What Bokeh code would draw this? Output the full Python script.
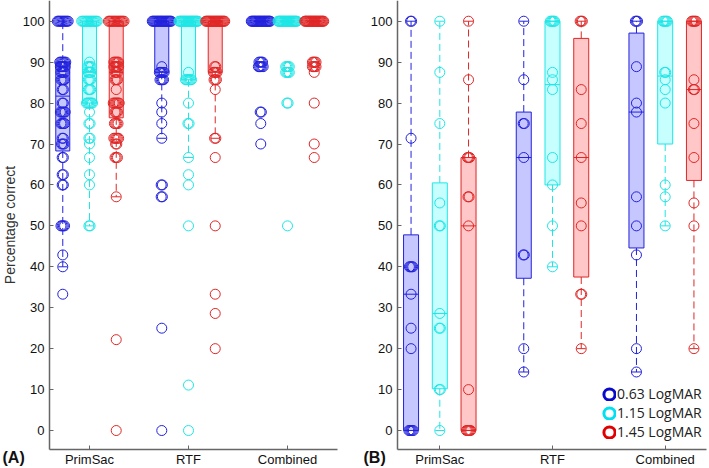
import numpy as np
from bokeh.plotting import figure
from bokeh.layouts import row
from bokeh.models import (ColumnDataSource, FixedTicker, Range1d, Label, Legend, LegendItem)
from bokeh.embed import file_html
from bokeh.resources import INLINE

# ---------------- data ----------------
tasks = ["PrimSac", "RTF", "Combined"]
acuities = ["0.63 LogMAR", "1.15 LogMAR", "1.45 LogMAR"]
y_ticks = [0, 10, 20, 30, 40, 50, 60, 70, 80, 90, 100]

# Panel (A): individual scores (value, number of occurrences)
A_PrimSac_063_vals = [100, 90, 88.9, 87.5, 85.7, 83.3, 80, 77.8, 75, 71.4, 70, 66.7, 62.5, 60, 50, 42.9, 40, 33.3]
A_PrimSac_063_cnts = [10, 6, 5, 4, 4, 2, 2, 5, 4, 2, 3, 2, 2, 2, 4, 1, 1, 1]
A_PrimSac_115_vals = [100, 90, 88.9, 87.5, 85.7, 83.3, 80, 77.8, 75, 71.4, 70, 66.7, 62.5, 60, 50]
A_PrimSac_115_cnts = [14, 1, 4, 3, 3, 3, 6, 1, 2, 2, 1, 1, 1, 1, 2]
A_PrimSac_145_vals = [100, 90, 88.9, 87.5, 85.7, 83.3, 80, 77.8, 75, 71.4, 70, 66.7, 57.1, 22.2, 0]
A_PrimSac_145_cnts = [14, 5, 5, 3, 3, 1, 6, 3, 4, 5, 2, 3, 1, 1, 1]
A_RTF_063_vals = [100, 88.9, 87.5, 85.7, 80, 77.8, 75, 71.4, 60, 57.1, 25, 0]
A_RTF_063_cnts = [22, 1, 5, 4, 1, 1, 1, 1, 2, 2, 1, 1]
A_RTF_115_vals = [100, 87.5, 85.7, 80, 75, 66.7, 62.5, 60, 50, 11.1, 0]
A_RTF_115_cnts = [22, 1, 6, 1, 2, 1, 1, 1, 1, 1, 1]
A_RTF_145_vals = [100, 88.9, 87.5, 85.7, 83.3, 71.4, 66.7, 50, 33.3, 28.6, 20]
A_RTF_145_cnts = [22, 2, 4, 3, 1, 2, 1, 1, 1, 1, 1]
A_Comb_063_vals = [100, 90, 88.9, 77.8, 75, 70]
A_Comb_063_cnts = [24, 4, 5, 2, 1, 1]
A_Comb_115_vals = [100, 88.9, 87.5, 80, 50]
A_Comb_115_cnts = [24, 4, 4, 2, 1]
A_Comb_145_vals = [100, 90, 88.9, 87.5, 80, 70, 66.7]
A_Comb_145_cnts = [24, 4, 4, 1, 1, 1, 1]

# Panel (A) box statistics, ordered PrimSac(0.63,1.15,1.45), RTF(...), Combined(...)
A_lo = [40, 50, 57.1, 71.4, 66.7, 71.4, 100, 100, 100]
A_q1 = [68.3, 80, 76.4, 87.5, 85.7, 87.5, 100, 100, 100]
A_med = [81.7, 87.5, 87.5, 100, 100, 100, 100, 100, 100]
A_q3 = [90, 100, 100, 100, 100, 100, 100, 100, 100]
A_hi = [100, 100, 100, 100, 100, 100, 100, 100, 100]

# Panel (B)
B_PrimSac_063_vals = [100, 71.4, 40, 33.3, 25, 20, 0]
B_PrimSac_063_cnts = [2, 1, 4, 1, 1, 1, 5]
B_PrimSac_115_vals = [100, 87.5, 75, 55.6, 50, 28.6, 25, 10, 0]
B_PrimSac_115_cnts = [1, 1, 1, 1, 2, 1, 2, 2, 1]
B_PrimSac_145_vals = [100, 85.7, 66.7, 57.1, 50, 10, 0]
B_PrimSac_145_cnts = [1, 1, 3, 2, 1, 1, 5]
B_RTF_063_vals = [100, 85.7, 75, 66.7, 42.9, 20, 14.3]
B_RTF_063_cnts = [1, 1, 2, 1, 2, 1, 1]
B_RTF_115_vals = [100, 87.5, 85.7, 83.3, 66.7, 60, 50, 40]
B_RTF_115_cnts = [5, 1, 1, 1, 1, 1, 1, 1]
B_RTF_145_vals = [100, 83.3, 75, 66.7, 55.6, 50, 33.3, 20]
B_RTF_145_cnts = [3, 1, 1, 1, 1, 1, 2, 1]
B_Comb_063_vals = [100, 88.9, 80, 77.8, 57.1, 50, 42.9, 20, 14.3]
B_Comb_063_cnts = [3, 1, 1, 1, 1, 1, 1, 1, 1]
B_Comb_115_vals = [100, 87.5, 85.7, 83.3, 80, 60, 57.1, 50]
B_Comb_115_cnts = [5, 2, 1, 1, 1, 1, 1, 1]
B_Comb_145_vals = [100, 85.7, 83.3, 75, 66.7, 55.6, 50, 20]
B_Comb_145_cnts = [5, 1, 2, 1, 1, 1, 1, 1]

B_lo = [0, 0, 0, 14.3, 40, 20, 14.3, 50, 20]
B_q1 = [0, 10.2, 0, 37.2, 60, 37.5, 44.6, 70, 61.1]
B_med = [33.3, 28.6, 50, 66.7, 84.5, 66.7, 77.8, 86.6, 83.3]
B_q3 = [47.8, 60.5, 66.7, 77.8, 100, 95.8, 97.1, 100, 100]
B_hi = [100, 100, 100, 100, 100, 100, 100, 100, 100]

# ---------------- styling ----------------
line_cols = ["#2222dd", "#1ee6e6", "#e02626"]
fill_cols = ["#0000ff", "#00ffff", "#ff0000"]
legend_cols = ["#0a0acc", "#00e0f0", "#e00000"]
FONT = "Liberation Sans"
H = 468
Y_RANGE = (-9.28, 105.06)
X_AXIS_AT = -4.64

A_points = [
    [(A_PrimSac_063_vals, A_PrimSac_063_cnts), (A_PrimSac_115_vals, A_PrimSac_115_cnts), (A_PrimSac_145_vals, A_PrimSac_145_cnts)],
    [(A_RTF_063_vals, A_RTF_063_cnts), (A_RTF_115_vals, A_RTF_115_cnts), (A_RTF_145_vals, A_RTF_145_cnts)],
    [(A_Comb_063_vals, A_Comb_063_cnts), (A_Comb_115_vals, A_Comb_115_cnts), (A_Comb_145_vals, A_Comb_145_cnts)],
]
B_points = [
    [(B_PrimSac_063_vals, B_PrimSac_063_cnts), (B_PrimSac_115_vals, B_PrimSac_115_cnts), (B_PrimSac_145_vals, B_PrimSac_145_cnts)],
    [(B_RTF_063_vals, B_RTF_063_cnts), (B_RTF_115_vals, B_RTF_115_cnts), (B_RTF_145_vals, B_RTF_145_cnts)],
    [(B_Comb_063_vals, B_Comb_063_cnts), (B_Comb_115_vals, B_Comb_115_cnts), (B_Comb_145_vals, B_Comb_145_cnts)],
]


def spread(vals, cnts, xc, ppu, step_px, max_half_px):
    xs, ys = [], []
    for v, n in zip(vals, cnts):
        half = min(max_half_px, step_px * (n - 1) / 2.0)
        offs = np.linspace(-half, half, n) if n > 1 else np.array([0.0])
        xs.extend(list(xc + offs / ppu))
        ys.extend([v] * n)
    return xs, ys


def make_panel(points, lo, q1, med, q3, hi, width, ppu, first_px, yaxis_px, xaxis_end_px,
               off, box_half_px, cap_half_px, step_px, max_half_px, ylabel=None):
    x0 = 1 - first_px / ppu
    xr = (x0, x0 + width / ppu)
    y_axis_x = x0 + yaxis_px / ppu
    x_axis_end = x0 + xaxis_end_px / ppu
    p = figure(width=width, height=H, x_range=Range1d(*xr), y_range=Range1d(*Y_RANGE),
               output_backend="svg", toolbar_location=None, title=None,
               min_border_left=0, min_border_right=0, min_border_top=0, min_border_bottom=0)
    p.grid.visible = False
    p.outline_line_color = None
    p.border_fill_color = "white"
    bh = box_half_px / ppu
    ch = cap_half_px / ppu
    for ai in range(3):
        idx = [ti * 3 + ai for ti in range(3)]
        xc = [ti + 1 + off[ai] for ti in range(3)]
        src = ColumnDataSource(dict(
            x=xc, left=[x - bh for x in xc], right=[x + bh for x in xc],
            capl=[x - ch for x in xc], capr=[x + ch for x in xc],
            lo=[lo[i] for i in idx], q1=[q1[i] for i in idx], med=[med[i] for i in idx],
            q3=[q3[i] for i in idx], hi=[hi[i] for i in idx]))
        col = line_cols[ai]
        p.quad(left="left", right="right", bottom="q1", top="q3", source=src,
               fill_color=fill_cols[ai], fill_alpha=0.22, line_color=col, line_width=1)
        p.segment(x0="x", y0="q3", x1="x", y1="hi", source=src, line_color=col,
                  line_width=1, line_dash="7 4")
        p.segment(x0="x", y0="q1", x1="x", y1="lo", source=src, line_color=col,
                  line_width=1, line_dash="7 4")
        p.segment(x0="capl", y0="hi", x1="capr", y1="hi", source=src, line_color=col, line_width=1)
        p.segment(x0="capl", y0="lo", x1="capr", y1="lo", source=src, line_color=col, line_width=1)
        p.segment(x0="left", y0="med", x1="right", y1="med", source=src, line_color=col, line_width=1)
    for ai in range(3):
        xs, ys = [], []
        for ti in range(3):
            vals, cnts = points[ti][ai]
            gx, gy = spread(vals, cnts, ti + 1 + off[ai], ppu, step_px, max_half_px)
            xs += gx
            ys += gy
        p.scatter(x=xs, y=ys, marker="circle", size=10, fill_color=None,
                  line_color=line_cols[ai], line_width=1)

    for ax in p.axis:
        ax.axis_line_color = "#666666"
        ax.axis_line_width = 1.5
        ax.major_tick_in = 4
        ax.major_tick_out = 0
        ax.major_tick_line_color = "#666666"
        ax.minor_tick_line_color = None
        ax.major_label_text_font = FONT
        ax.major_label_text_font_size = "13px"
        ax.major_label_text_color = "#111111"
    p.yaxis.ticker = FixedTicker(ticks=y_ticks)
    p.yaxis.major_label_standoff = 5
    p.yaxis.fixed_location = y_axis_x
    p.yaxis.bounds = (X_AXIS_AT, Y_RANGE[1])
    p.xaxis.ticker = FixedTicker(ticks=[1, 2, 3])
    p.xaxis.major_label_overrides = {1: tasks[0], 2: tasks[1], 3: tasks[2]}
    p.xaxis.major_label_standoff = 2
    p.xaxis.fixed_location = X_AXIS_AT
    p.xaxis.bounds = (y_axis_x, x_axis_end)
    if ylabel:
        p.yaxis.axis_label = ylabel
        p.yaxis.axis_label_text_font = FONT
        p.yaxis.axis_label_text_font_size = "14px"
        p.yaxis.axis_label_text_font_style = "normal"
        p.yaxis.axis_label_text_color = "#333333"
        p.yaxis.axis_label_standoff = 2
    return p


p1 = make_panel(A_points, A_lo, A_q1, A_med, A_q3, A_hi, 353, 99.0, 89.0, 49.0, 337.0,
                [-0.27, 0.0, 0.27], 7.0, 4.5, 1.2, 9.5, ylabel="Percentage correct")
p2 = make_panel(B_points, B_lo, B_q1, B_med, B_q3, B_hi, 356, 112.7, 86.3, 44.0, 353.0,
                [-0.255, 0.0, 0.255], 7.5, 4.5, 1.1, 3.0)

p1.add_layout(Label(x=2, y=11, x_units="screen", y_units="screen", text="(A)",
                    text_font=FONT, text_font_size="16px", text_font_style="bold",
                    text_baseline="middle", text_align="left", text_color="#111111"))
p2.add_layout(Label(x=10, y=11, x_units="screen", y_units="screen", text="(B)",
                    text_font=FONT, text_font_size="16px", text_font_style="bold",
                    text_baseline="middle", text_align="left", text_color="#111111"))

items = []
for ai in range(3):
    r = p2.ellipse(x=[np.nan], y=[np.nan], width=1, height=1, width_units="screen",
                   height_units="screen", fill_color=None, line_color=legend_cols[ai],
                   line_width=3)
    items.append(LegendItem(label=acuities[ai], renderers=[r]))
legend = Legend(items=items, location=(249, 27), glyph_width=14, glyph_height=14,
                label_standoff=1, spacing=0, padding=0, margin=0,
                border_line_color=None, background_fill_alpha=0,
                label_text_font="Open Sans", label_text_font_size="14px",
                label_height=19, label_text_color="#222222")
p2.add_layout(legend, "center")

layout = row(p1, p2)
open("out.html", "w").write(file_html(layout, INLINE))
